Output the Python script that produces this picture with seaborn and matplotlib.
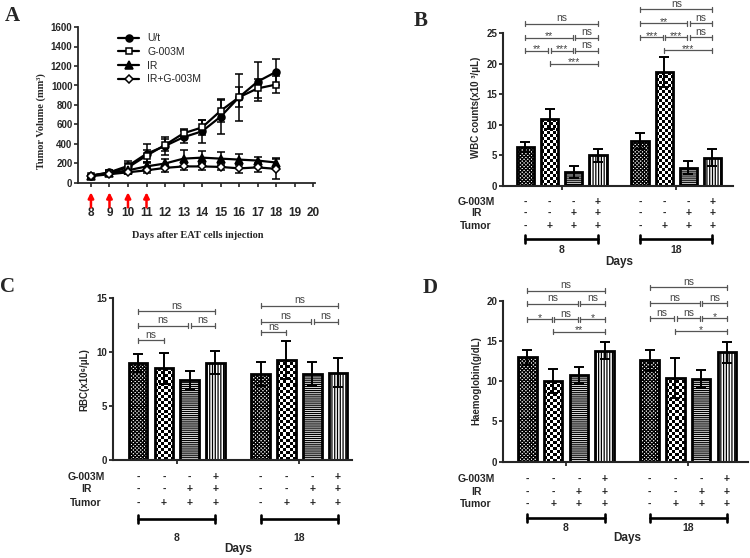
import numpy as np
import pandas as pd
import matplotlib
matplotlib.use('Agg')
import matplotlib.pyplot as plt
import seaborn as sns

# ---------------- data ----------------
days = [8, 9, 10, 11, 12, 13, 14, 15, 16, 17, 18]
series_names = ['U/t', 'G-003M', 'IR', 'IR+G-003M']
ut_mean = [75, 110, 175, 300, 380, 470, 530, 680, 880, 1040, 1140]
ut_err = [10, 20, 50, 100, 90, 60, 120, 180, 240, 200, 130]
g_mean = [75, 105, 160, 280, 390, 510, 570, 740, 880, 970, 1010]
g_err = [10, 15, 40, 60, 60, 40, 80, 110, 100, 100, 90]
ir_mean = [75, 100, 130, 170, 200, 250, 260, 250, 240, 230, 210]
ir_err = [10, 15, 30, 50, 50, 90, 70, 65, 55, 40, 50]
irg_mean = [70, 90, 110, 130, 155, 170, 170, 165, 150, 160, 145]
irg_err = [10, 10, 20, 30, 40, 40, 40, 35, 45, 50, 100]
arrow_days = [8, 9, 10, 11]
xtick_days = list(range(8, 21))
vol_ticks = [0, 200, 400, 600, 800, 1000, 1200, 1400, 1600]

group_days = ['8', '18']
row_names = ['G-003M', 'IR', 'Tumor']
g003m_row = ['-', '-', '-', '+']
ir_row = ['-', '-', '+', '+']
tumor_row = ['-', '+', '+', '+']

wbc_mean = [6.4, 10.9, 2.3, 5.0, 7.35, 18.6, 3.0, 4.6]
wbc_err = [0.8, 1.6, 1.0, 1.0, 1.25, 2.5, 1.05, 1.4]
wbc_sig = [(0, 3, 26.5, 'ns'), (0, 2, 24.2, '**'), (2, 3, 24.2, 'ns'),
           (0, 1, 22.1, '**'), (1, 2, 22.1, '***'), (2, 3, 22.1, 'ns'),
           (1, 3, 20.0, '***'),
           (4, 7, 28.9, 'ns'), (4, 6, 26.6, '**'), (6, 7, 26.6, 'ns'),
           (4, 5, 24.3, '***'), (5, 6, 24.3, '***'), (6, 7, 24.3, 'ns'),
           (5, 7, 22.2, '***')]

rbc_mean = [8.97, 8.5, 7.42, 9.03, 7.98, 9.28, 7.98, 8.1]
rbc_err = [0.85, 1.45, 0.87, 1.07, 1.14, 1.76, 1.08, 1.33]
rbc_sig = [(0, 3, 13.8, 'ns'), (0, 2, 12.46, 'ns'), (2, 3, 12.46, 'ns'),
           (0, 1, 11.13, 'ns'),
           (4, 7, 14.3, 'ns'), (4, 6, 12.83, 'ns'), (6, 7, 12.83, 'ns'),
           (4, 5, 11.84, 'ns')]

hb_mean = [12.97, 10.06, 10.77, 13.79, 12.6, 10.44, 10.23, 13.59]
hb_err = [0.9, 1.5, 0.95, 1.05, 1.3, 2.5, 1.1, 1.3]
hb_sig = [(0, 3, 21.24, 'ns'), (0, 2, 19.6, 'ns'), (2, 3, 19.6, 'ns'),
          (0, 1, 17.7, '*'), (1, 2, 17.7, 'ns'), (2, 3, 17.7, '*'),
          (1, 3, 16.15, '**'),
          (4, 7, 21.66, 'ns'), (4, 6, 19.67, 'ns'), (6, 7, 19.67, 'ns'),
          (4, 5, 17.8, 'ns'), (5, 6, 17.8, 'ns'), (6, 7, 17.8, '*'),
          (5, 7, 16.2, '*')]

# ---------------- style ----------------
sns.set_theme(style='ticks')
plt.rcParams['font.family'] = ['Liberation Sans', 'DejaVu Sans']
plt.rcParams['hatch.linewidth'] = 0.9
SERIF = ['Liberation Serif', 'DejaVu Serif']

W, H = 750, 558
fig = plt.figure(figsize=(7.5, 5.58), dpi=100)


def add_axes(left, right, top, bottom):
    return fig.add_axes([left / W, 1 - bottom / H, (right - left) / W, (bottom - top) / H])


PT = 0.72  # points per pixel at 100 dpi

# ---------------- Panel A ----------------
axA = add_axes(78, 315, 27, 183)
means = [ut_mean, g_mean, ir_mean, irg_mean]
errs = [ut_err, g_err, ir_err, irg_err]
mstyle = {'U/t': ('o', 'black', 5.0), 'G-003M': ('s', 'white', 4.3),
          'IR': ('^', 'black', 5.2), 'IR+G-003M': ('D', 'white', 3.9)}
for name, m, e in zip(series_names, means, errs):
    axA.errorbar(days, m, yerr=e, fmt='none', ecolor='black', elinewidth=1.1,
                 capsize=3, capthick=1.1, zorder=2)
    mk, fc, ms = mstyle[name]
    sns.lineplot(x=days, y=m, ax=axA, color='black', linewidth=1.6, marker=mk,
                 markersize=ms, markerfacecolor=fc, markeredgecolor='black',
                 markeredgewidth=1.1, label=name, zorder=3)
axA.set_xlim(7.3, 20.1)
axA.set_ylim(0, 1600)
axA.set_xticks(xtick_days)
axA.set_xticklabels([str(d) for d in xtick_days], fontsize=8.5, fontweight='bold')
axA.set_yticks(vol_ticks)
axA.set_yticklabels([str(v) for v in vol_ticks], fontsize=7, fontweight='bold')
axA.tick_params(axis='x', length=3, width=1.2, pad=14, direction='out')
axA.tick_params(axis='y', length=3, width=1.2, pad=1, direction='out')
for s in ['top', 'right']:
    axA.spines[s].set_visible(False)
for s in ['left', 'bottom']:
    axA.spines[s].set_linewidth(1.3)
axA.set_xlabel('Days after EAT cells injection', fontsize=7.5, fontweight='bold', family=SERIF)
axA.xaxis.set_label_coords(0.506, -0.31)
axA.set_ylabel('Tumor Volume (mm³)', fontsize=7.5, fontweight='bold', family=SERIF)
axA.yaxis.set_label_coords(-0.135, 0.40)
for d in arrow_days:
    axA.annotate('', xy=(d, -95), xytext=(d, -250), annotation_clip=False,
                 arrowprops=dict(arrowstyle='-|>', color='red', lw=1.8, mutation_scale=8,
                                 shrinkA=0, shrinkB=0))
h, l = axA.get_legend_handles_labels()
axA.legend(h, l, loc='upper left', bbox_to_anchor=(0.17, 0.96), frameon=False,
           fontsize=7.5, handlelength=2.0, handletextpad=0.8, labelspacing=0.35,
           borderpad=0, borderaxespad=0)

# ---------------- bar panels ----------------
hatches = ['xxxxxxxxx', None, '--------', '||||||']


def bar_panel(ax, mean, err, sig, ymax_spine, ystep, xlim, ylim, ylabel, ylab_xy, offs):
    pos = [g * 4.75 + k for g in range(2) for k in range(4)]
    df = pd.DataFrame({'pos': pos, 'val': mean})
    sns.barplot(data=df, x='pos', y='val', native_scale=True, width=0.72,
                color='white', saturation=1, edgecolor='black', linewidth=2.0,
                errorbar=None, ax=ax, zorder=2)
    ax.set_xlim(*xlim)
    ax.set_ylim(*ylim)
    bbox = ax.get_window_extent()
    ppu = bbox.height / (ylim[1] - ylim[0])
    ppx = bbox.width / (xlim[1] - xlim[0])
    for i, p in enumerate(list(ax.patches)):
        p.set_facecolor('white')
        hh = hatches[i % 4]
        if hh is not None:
            p.set_hatch(hh)
        else:
            # checkerboard fill, clipped to the bar
            x0, w0, h0 = p.get_x(), p.get_width(), p.get_height()
            nx = max(1, int(round(w0 * ppx / 3.0)))
            ny = max(1, int(round(h0 * ppu / 3.0)))
            chk = np.indices((ny, nx)).sum(axis=0) % 2
            im = ax.imshow(chk, cmap='gray_r', vmin=0, vmax=1, extent=[x0, x0 + w0, 0, h0],
                           interpolation='nearest', aspect='auto', zorder=2.1, origin='lower')
            im.set_clip_path(p)
            p.set_facecolor('none')
            p.set_zorder(2.2)
    ax.errorbar(pos, mean, yerr=err, fmt='none', ecolor='black', elinewidth=1.4,
                capsize=3.5, capthick=1.4, zorder=3)
    ax.set_xlim(*xlim)
    ax.set_ylim(*ylim)
    ax.set_aspect('auto')
    ax.set_xlabel('')
    ax.set_ylabel(ylabel, fontsize=7, fontweight='bold')
    ax.yaxis.set_label_coords(*ylab_xy)
    yt = list(np.arange(0, ymax_spine + 0.01, ystep))
    ax.set_yticks(yt)
    ax.set_yticklabels([f'{int(v)}' for v in yt], fontsize=7, fontweight='bold')
    centers = [g * 4.75 + 1.5 for g in range(2)]
    ax.set_xticks(centers)
    ax.set_xticklabels(['', ''])
    ax.tick_params(axis='both', length=3, width=1.3, pad=1, direction='out')
    for s in ['top', 'right']:
        ax.spines[s].set_visible(False)
    ax.spines['left'].set_bounds(0, ymax_spine)
    ax.spines['left'].set_linewidth(1.5)
    ax.spines['bottom'].set_linewidth(1.5)

    d = 2.5 / ppu
    gap = 0.05
    for (i, j, y, lab) in sig:
        x1 = pos[i] + (gap if any(s[1] == i and s[2] == y for s in sig) else 0)
        x2 = pos[j] - (gap if any(s[0] == j and s[2] == y for s in sig) else 0)
        ax.plot([x1, x2], [y, y], color='#555555', lw=0.9, clip_on=False, zorder=4)
        ax.plot([x1, x1], [y - d, y + d], color='#555555', lw=0.9, clip_on=False, zorder=4)
        ax.plot([x2, x2], [y - d, y + d], color='#555555', lw=0.9, clip_on=False, zorder=4)
        if lab == 'ns':
            ax.text((x1 + x2) / 2, y + 0.5 / ppu, lab, ha='center', va='bottom',
                    fontsize=7.5, color='#444444')
        else:
            ax.text((x1 + x2) / 2, y - 3.5 / ppu, lab, ha='center', va='bottom',
                    fontsize=7.5, color='#444444')

    rows = [g003m_row, ir_row, tumor_row]
    xt = ax.get_xaxis_transform()
    row_px, br_px, grp_px, days_px = offs
    for r, (rname, rvals) in enumerate(zip(row_names, rows)):
        ax.annotate(rname, xy=(0, 0), xycoords='axes fraction',
                    xytext=(-27 * PT, -row_px[r] * PT), textcoords='offset points',
                    ha='center', va='center', fontsize=7.5, fontweight='bold')
        for g in range(2):
            for k in range(4):
                ax.annotate(rvals[k], xy=(pos[g * 4 + k], 0), xycoords=xt,
                            xytext=(0, -row_px[r] * PT), textcoords='offset points',
                            ha='center', va='center', fontsize=7.5, fontweight='bold')
    for g in range(2):
        xa, xb = pos[g * 4], pos[g * 4 + 3]
        yb = -br_px / bbox.height
        ax.plot([xa, xb], [yb, yb], transform=xt, color='black', lw=1.9, clip_on=False)
        ax.plot([xa, xa], [yb - 4 / bbox.height, yb + 4 / bbox.height], transform=xt,
                color='black', lw=1.9, clip_on=False)
        ax.plot([xb, xb], [yb - 4 / bbox.height, yb + 4 / bbox.height], transform=xt,
                color='black', lw=1.9, clip_on=False)
        ax.annotate(group_days[g], xy=(centers[g], 0), xycoords=xt,
                    xytext=(0, -grp_px * PT), textcoords='offset points',
                    ha='center', va='center', fontsize=7.5, fontweight='bold')
    ax.annotate('Days', xy=(0.5 * (centers[0] + centers[1]), 0), xycoords=xt,
                xytext=(0, -days_px * PT), textcoords='offset points',
                ha='center', va='center', fontsize=8.5, fontweight='bold')


axB = add_axes(503, 733, 186 - 30 * 6.12, 186)
bar_panel(axB, wbc_mean, wbc_err, wbc_sig, 25, 5, (-0.93, 8.6), (0, 30),
          'WBC counts(x10 ³/μL)', (-0.096, 0.43),
          ([16, 27, 40], 53, 64, 76))

axC = add_axes(113, 352, 460 - 16 * 10.78, 460)
bar_panel(axC, rbc_mean, rbc_err, rbc_sig, 15, 5, (-0.97, 8.29), (0, 16),
          'RBC(x10⁶/μL)', (-0.10, 0.464),
          ([17, 29, 43], 59, 78, 89))

axD = add_axes(503, 748, 461.7 - 22.5 * 8.05, 461.7)
bar_panel(axD, hb_mean, hb_err, hb_sig, 20, 5, (-0.95, 8.57), (0, 22.5),
          'Haemoglobin(g/dL)', (-0.09, 0.446),
          ([17, 30, 42], 56, 66, 76))

# panel letters
for lab, x, y in [('A', 12, 16), ('B', 421, 21), ('C', 7, 287), ('D', 430, 288)]:
    fig.text(x / W, 1 - y / H, lab, ha='center', va='center', fontsize=15,
             fontweight='bold', family=SERIF)

fig.savefig('out.png', dpi=100)
